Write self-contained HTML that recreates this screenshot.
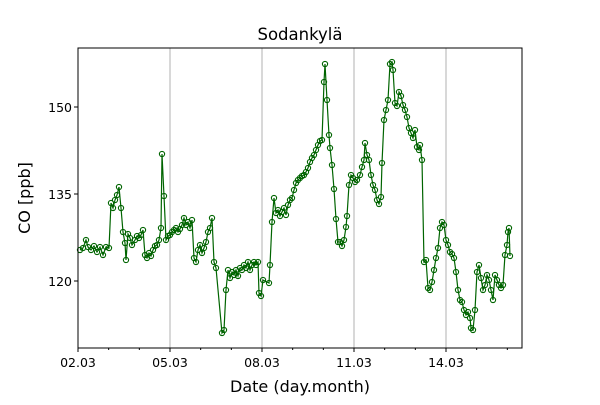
<!DOCTYPE html>
<html><head><meta charset="utf-8"><style>body{margin:0;background:#fff}</style></head><body>
<svg id="s" width="600" height="400" xmlns="http://www.w3.org/2000/svg" font-family="DejaVu Sans, Liberation Sans, sans-serif">
<rect width="600" height="400" fill="#fff"/>
<g stroke="#b0b0b0" stroke-width="1">
<line x1="170" y1="48" x2="170" y2="348"/><line x1="262" y1="48" x2="262" y2="348"/>
<line x1="354" y1="48" x2="354" y2="348"/><line x1="446" y1="48" x2="446" y2="348"/>
</g>
<g id="d"></g>
<rect x="78" y="48" width="444" height="300" fill="none" stroke="#000" stroke-width="1"/>
<g id="t" stroke="#000"></g>
<g font-size="12.5" fill="#000">
<text x="72" y="112" text-anchor="end">150</text>
<text x="72" y="199" text-anchor="end">135</text>
<text x="72" y="286" text-anchor="end">120</text>
<text x="78" y="367" text-anchor="middle">02.03</text>
<text x="170" y="367" text-anchor="middle">05.03</text>
<text x="262" y="367" text-anchor="middle">08.03</text>
<text x="354" y="367" text-anchor="middle">11.03</text>
<text x="446" y="367" text-anchor="middle">14.03</text>
</g>
<text x="300" y="40" font-size="16.5" text-anchor="middle">Sodankylä</text>
<text x="300" y="392" font-size="16" text-anchor="middle">Date (day.month)</text>
<text transform="translate(30,198) rotate(-90)" font-size="16" text-anchor="middle">CO [ppb]</text>
</svg>
<script>
var p=[80,250,83,248,86,240,88,247,91,250,94,246,97,252,100,247,103,255,106,247,109,248,111,203,113,208,115,200,117,195,119,187,121,208,123,232,125,243,126,260,128,234,130,238,132,245,135,240,137,236,139,238,141,235,143,230,145,255,147,258,149,253,151,256,153,250,155,246,157,245,159,240,161,228,162,154,164,196,166,240,168,236,170,235,172,232,174,230,176,228,178,232,180,229,182,225,184,218,186,225,188,222,190,228,192,220,194,258,196,262,198,250,200,245,202,253,204,248,206,242,208,232,210,228,212,218,214,262,216,268,222,333,224,330,226,290,228,270,230,278,232,272,234,275,236,270,238,276,240,268,242,270,244,265,246,268,248,262,250,270,252,265,254,262,256,265,258,262,259,293,261,296,263,280,269,283,270,265,272,222,274,198,276,213,278,210,280,216,282,212,284,208,286,215,288,205,290,200,292,198,294,190,296,183,298,180,300,178,302,176,304,175,306,172,308,168,310,162,312,158,314,155,316,150,318,145,320,141,322,140,324,82,325,64,327,100,329,135,330,148,332,165,334,189,336,219,338,242,340,242,342,246,344,240,346,227,347,216,349,185,351,175,353,178,355,182,357,180,360,175,362,167,364,160,365,143,367,155,369,160,371,175,373,185,375,190,377,200,379,204,381,197,382,163,384,120,386,110,388,100,390,64,392,62,393,70,395,103,397,106,399,92,401,96,403,105,405,110,407,117,409,128,411,133,413,138,415,130,417,147,419,150,420,145,422,160,424,262,426,260,428,288,430,290,432,282,434,270,436,258,438,248,440,228,442,222,444,225,446,240,448,245,450,252,452,254,454,258,456,272,458,290,460,300,462,302,464,310,466,315,468,312,470,318,471,328,473,330,475,310,477,272,479,265,481,278,483,290,485,285,487,275,489,280,491,290,493,300,495,275,497,280,499,285,501,288,503,285,505,255,507,245,508,232,509,228,510,256];
var ns="http://www.w3.org/2000/svg",g=document.getElementById('d'),pts=[];
for(var i=0;i<p.length;i+=2)pts.push(p[i]+','+p[i+1]);
var pl=document.createElementNS(ns,'polyline');pl.setAttribute('points',pts.join(' '));pl.setAttribute('fill','none');pl.setAttribute('stroke','#006400');pl.setAttribute('stroke-width','1.2');g.appendChild(pl);
for(var i=0;i<p.length;i+=2){var c=document.createElementNS(ns,'circle');c.setAttribute('cx',p[i]);c.setAttribute('cy',p[i+1]);c.setAttribute('r','2.6');c.setAttribute('fill','none');c.setAttribute('stroke','#006400');c.setAttribute('stroke-width','1.1');g.appendChild(c);}
var t=document.getElementById('t');
function ln(a,b,c,d){var l=document.createElementNS(ns,'line');l.setAttribute('x1',a);l.setAttribute('y1',b);l.setAttribute('x2',c);l.setAttribute('y2',d);t.appendChild(l);}
[107,194,281].forEach(function(y){ln(74,y,78,y);});
for(var k=0;k<15;k++){var x=78+k*30.667;if(x>522)break;ln(x,348,x,k%3==0?352:350);}
</script>
</body></html>
